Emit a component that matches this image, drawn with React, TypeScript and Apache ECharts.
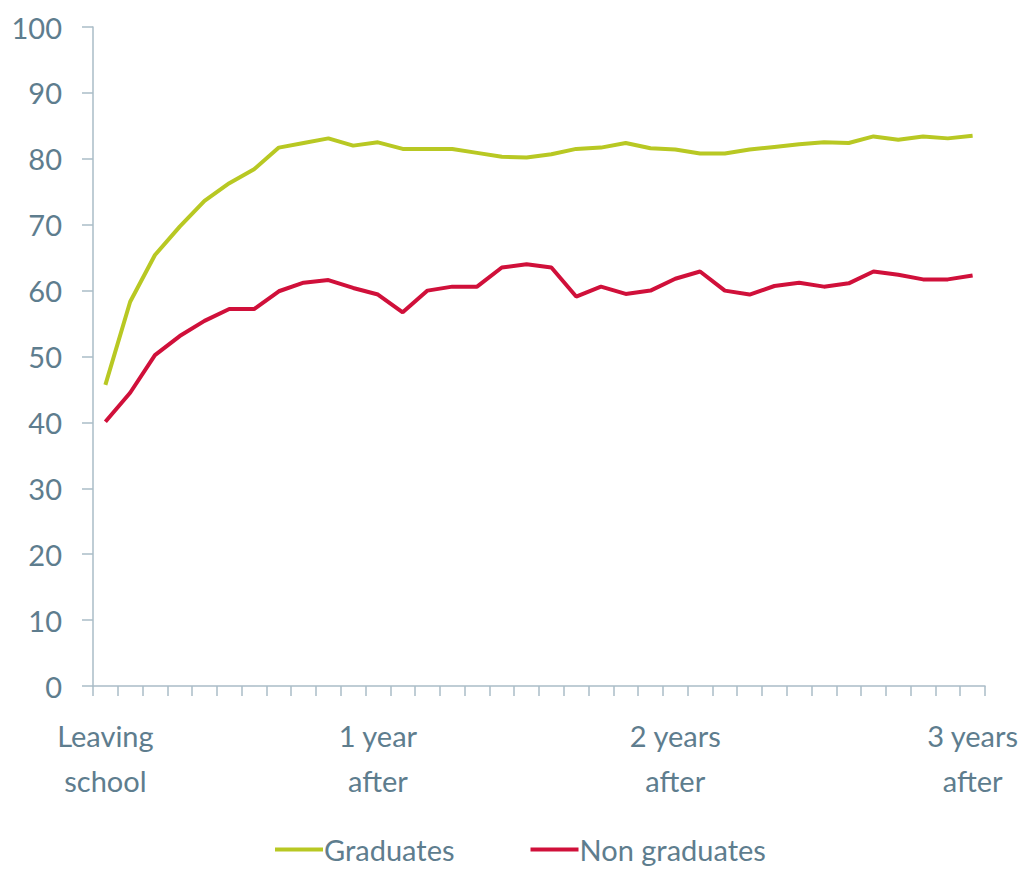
import React, { useEffect, useRef } from "react";
import * as echarts from "echarts";

const categoryLabels: string[] = [
  "Leaving\nschool", "", "", "", "", "", "", "", "", "", "", "1 year\nafter",
  "", "", "", "", "", "", "", "", "", "", "", "2 years\nafter",
  "", "", "", "", "", "", "", "", "", "", "", "3 years\nafter",
];
const categories: string[] = categoryLabels.map((l, i) => (l === "" ? "m" + (i + 1) : l));

const graduates: number[] = [
  45.7, 58.3, 65.4, 69.7, 73.6, 76.3, 78.4, 81.7, 82.4, 83.1, 82.0, 82.5,
  81.5, 81.5, 81.5, 80.9, 80.3, 80.2, 80.7, 81.5, 81.7, 82.4, 81.6, 81.4,
  80.8, 80.8, 81.4, 81.8, 82.2, 82.5, 82.4, 83.4, 82.9, 83.4, 83.1, 83.5,
];
const nonGraduates: number[] = [
  40.1, 44.5, 50.2, 53.1, 55.4, 57.2, 57.2, 59.9, 61.2, 61.6, 60.4, 59.4,
  56.7, 60.0, 60.6, 60.6, 63.5, 64.0, 63.5, 59.1, 60.6, 59.5, 60.0, 61.8,
  62.9, 60.0, 59.4, 60.7, 61.2, 60.6, 61.1, 62.9, 62.4, 61.7, 61.7, 62.3,
];
const seriesNames: string[] = ["Graduates", "Non graduates"];

const TEXT = "#5e7d8e";
const AXIS = "#aabcc7";
const FONT = "Lato, 'Open Sans', sans-serif";
const FS = 29;

export default function App() {
  const ref = useRef<HTMLDivElement>(null);
  useEffect(() => {
    if (!ref.current) return;
    const chart = echarts.init(ref.current, undefined, { renderer: "svg" });
    chart.setOption({
      animation: false,
      textStyle: { fontFamily: FONT },
      grid: { left: 93, right: 38, top: 27, bottom: 184, containLabel: false },
      legend: {
        left: 275,
        top: 835,
        padding: 0,
        itemWidth: 48,
        itemHeight: 4,
        itemGap: 76,
        icon: "rect",
        textStyle: { color: TEXT, fontSize: FS, fontFamily: FONT, padding: [0, 0, 0, -4] },
        data: seriesNames,
      },
      xAxis: {
        type: "category",
        data: categories,
        boundaryGap: true,
        axisLine: { lineStyle: { color: AXIS, width: 1.5 } },
        axisTick: { show: true, interval: 0, length: 10, lineStyle: { color: AXIS, width: 1.5 } },
        axisLabel: {
          interval: (idx: number) => categoryLabels[idx] !== "",
          formatter: (v: string, idx: number) => categoryLabels[idx],
          color: TEXT,
          fontSize: FS,
          fontFamily: FONT,
          lineHeight: 45,
          margin: 27,
        },
        splitLine: { show: false },
      },
      yAxis: {
        type: "value",
        min: 0,
        max: 100,
        interval: 10,
        axisLine: { show: true, lineStyle: { color: AXIS, width: 1.5 } },
        axisTick: { show: true, length: 11, lineStyle: { color: AXIS, width: 1.5 } },
        axisLabel: { color: TEXT, fontSize: FS, fontFamily: FONT, margin: 31 },
        splitLine: { show: false },
      },
      series: [
        {
          name: seriesNames[0],
          type: "line",
          data: graduates,
          symbol: "none",
          lineStyle: { color: "#b8c823", width: 4 },
          itemStyle: { color: "#b8c823" },
        },
        {
          name: seriesNames[1],
          type: "line",
          data: nonGraduates,
          symbol: "none",
          lineStyle: { color: "#d0103a", width: 4 },
          itemStyle: { color: "#d0103a" },
        },
      ],
    });
    return () => chart.dispose();
  }, []);
  return <div ref={ref} style={{ width: 1023, height: 870, position: "absolute", left: 0, top: 0 }} />;
}
